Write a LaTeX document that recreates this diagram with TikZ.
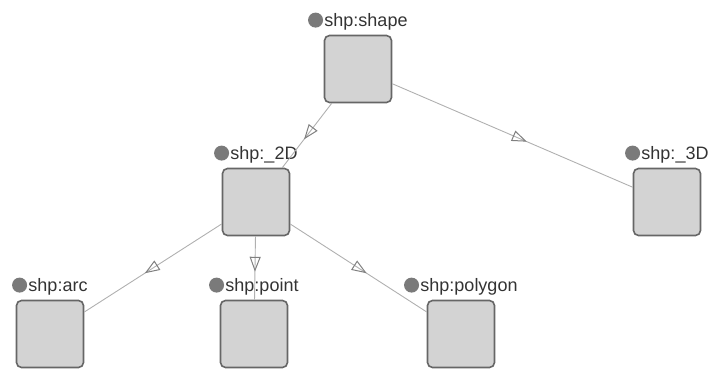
\documentclass[tikz,border=0pt]{standalone}
\usepackage{fontspec}
\setmainfont{Liberation Sans}
\usetikzlibrary{positioning,arrows.meta,decorations.markings}
\definecolor{boxfill}{HTML}{D3D3D3}
\definecolor{boxline}{HTML}{666666}
\definecolor{edgeline}{HTML}{B0B0B0}
\definecolor{tipline}{HTML}{808080}
\definecolor{dotfill}{HTML}{7A7A7A}
\definecolor{lbltext}{HTML}{333333}
\begin{document}
\begin{tikzpicture}[x=1pt,y=-1pt,
    cls/.style={draw=boxline,line width=1.6pt,fill=boxfill,rounded corners=5pt,minimum size=67pt,inner sep=0pt},
    lbl/.style={inner sep=0pt,text=lbltext,font=\fontsize{18}{20}\selectfont,xshift=8pt},
    dotmark/.style={circle,fill=dotfill,minimum size=15pt,inner sep=0pt},
    edge/.style={draw=edgeline,line width=0.9pt,postaction={decorate},
      decoration={markings,mark=at position 0.56 with {\arrow[draw=tipline,line width=1pt]{Triangle[open,length=15pt,width=11pt]}}}}]
    \useasboundingbox (0,0) rectangle (713,369);
    % classes
    \node[cls] (shape) at (358,69) {};
    \node[cls] (twoD) at (256,202) {};
    \node[cls] (threeD) at (667,202) {};
    \node[cls] (arc) at (50,334) {};
    \node[cls] (point) at (254,334) {};
    \node[cls] (polygon) at (461,334) {};
    % labels
    \foreach \n/\t in {shape/shp:shape,twoD/shp:\_2D,threeD/shp:\_3D,arc/shp:arc,point/shp:point,polygon/shp:polygon}{
        \node[lbl,above=4pt of \n] (\n lbl) {\t};
        \node[dotmark,left=1pt of \n lbl.west,yshift=2pt] (\n dot) {};
    }
    % subclass links
    \draw[edge] (shape) -- (twoD);
    \draw[edge] (shape) -- (threeD);
    \draw[edge] (twoD) -- (arc);
    \draw[edge] (twoD) -- (point);
    \draw[edge] (twoD) -- (polygon);
\end{tikzpicture}
\end{document}
